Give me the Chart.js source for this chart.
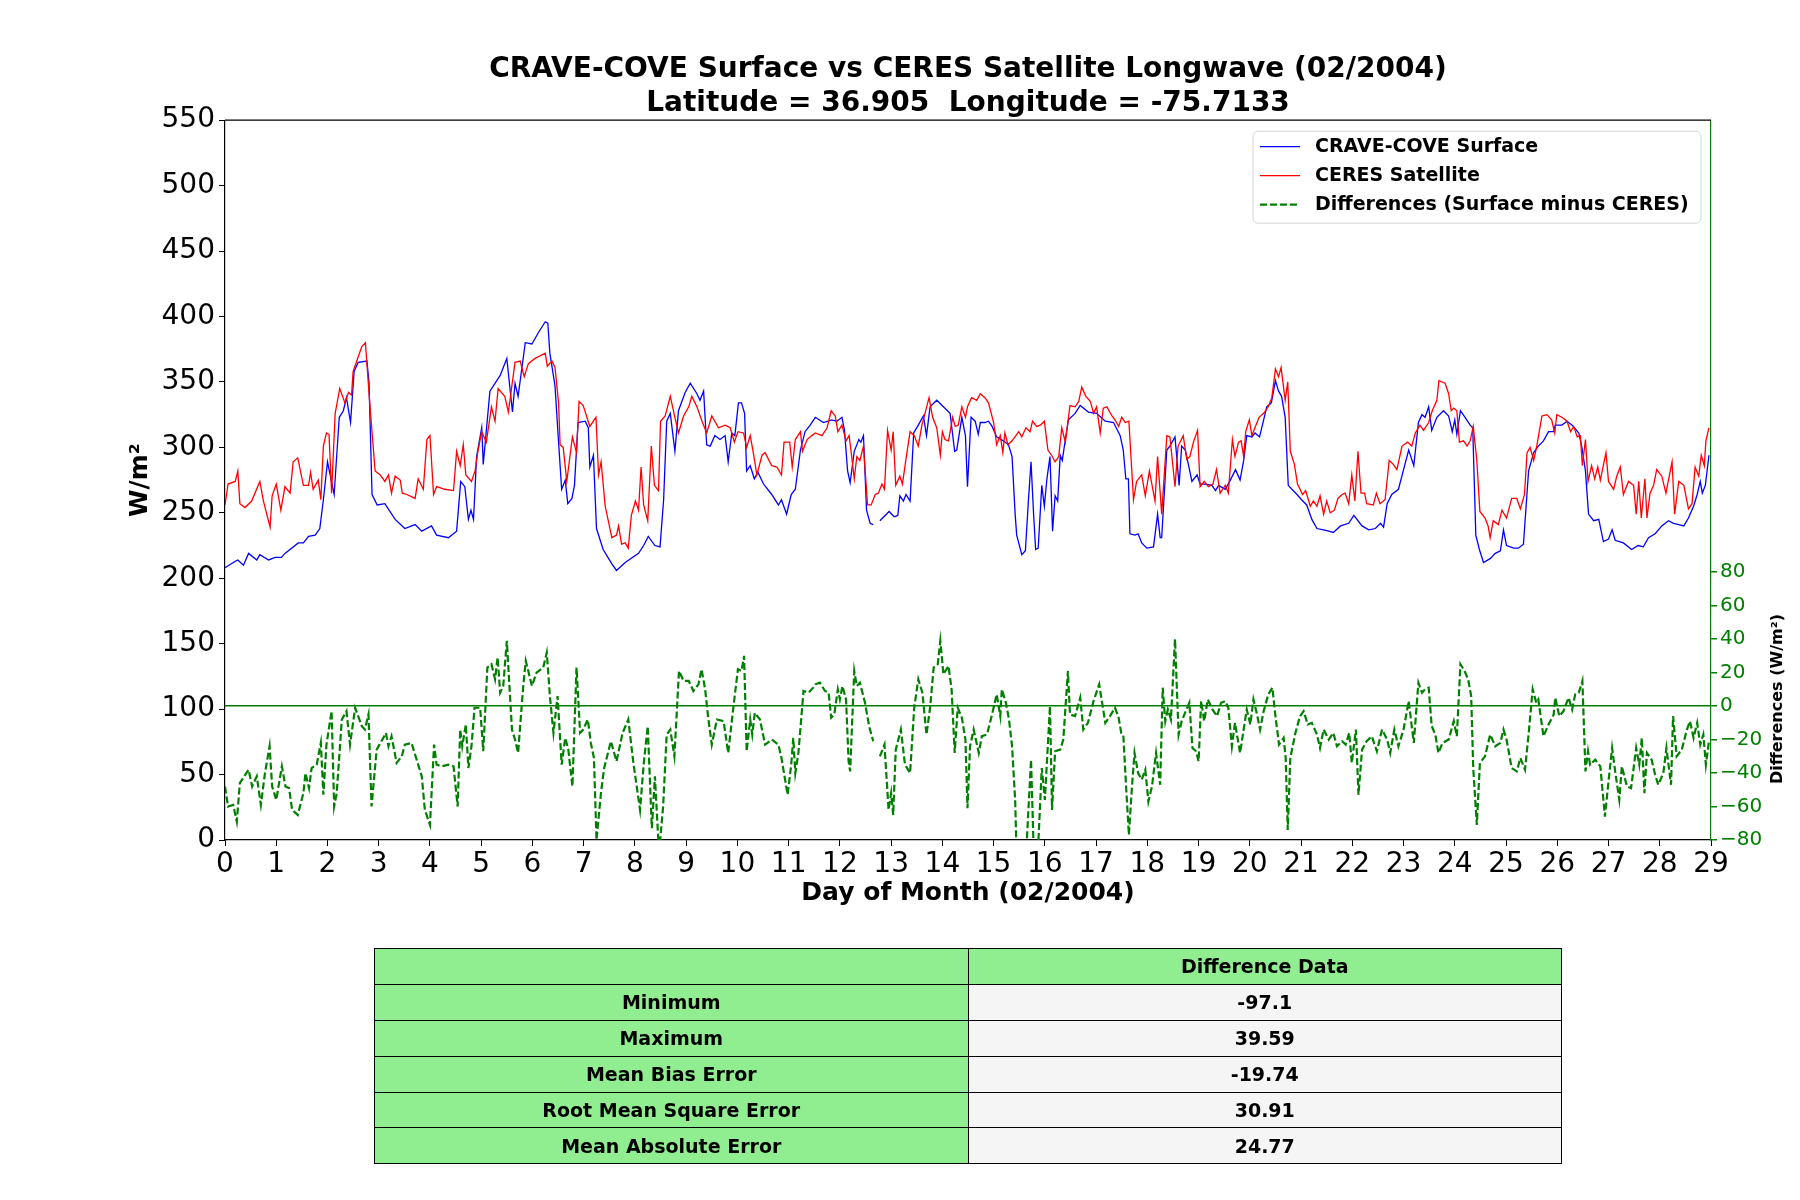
<!DOCTYPE html>
<html>
<head>
<meta charset="utf-8">
<script src="https://cdn.jsdelivr.net/npm/chart.js@4.4.1/dist/chart.umd.min.js"></script>
<style>
  body { margin: 0; background: #fff; }
  #wrap { position: relative; width: 1800px; height: 1200px; }
  #chart { position: absolute; left: 0; top: 0; }
  #stats {
    position: absolute; left: 374px; top: 948px; width: 1188px;
    border-collapse: collapse; font: bold 19px "DejaVu Sans", sans-serif;
  }
  #stats td { height: 34.9px; border: 1.5px solid #000; text-align: center; width: 50%; background: #f5f5f5; padding: 0; }
  #stats td.g { background: #90ee90; }
</style>
</head>
<body>
<div id="wrap">
  <canvas id="chart" width="1800" height="1200"></canvas>
  <table id="stats"></table>
</div>
<script>
// CRAVE-COVE surface (blue)
const surfDay = [0, 0.2, 0.25, 0.36, 0.46, 0.62, 0.68, 0.85, 0.98, 1.1, 1.17, 1.43, 1.53, 1.63, 1.76, 1.85, 1.92, 2.0, 2.13, 2.23, 2.31, 2.37, 2.45, 2.52, 2.6, 2.77, 2.81, 2.87, 2.97, 3.12, 3.32, 3.51, 3.71, 3.84, 4.03, 4.13, 4.36, 4.52, 4.6, 4.68, 4.75, 4.8, 4.85, 4.91, 5.01, 5.04, 5.17, 5.37, 5.5, 5.61,
  5.66, 5.72, 5.86, 5.99, 6.12, 6.25, 6.3, 6.34, 6.44, 6.51, 6.57, 6.64, 6.69, 6.77, 6.82, 6.89, 7.03, 7.09, 7.12, 7.19, 7.25, 7.38, 7.55, 7.64, 7.81, 8.07, 8.17, 8.26, 8.39, 8.49, 8.56, 8.62, 8.69, 8.78, 8.85, 8.98, 9.08, 9.21, 9.27, 9.34, 9.4, 9.47, 9.56, 9.66, 9.76, 9.82, 9.89, 9.95, 10.02, 10.08, 10.14, 10.18, 10.25, 10.33, 10.4, 10.51, 10.67, 10.8, 10.86, 10.96, 11.05, 11.13, 11.23, 11.32, 11.42,
  11.52, 11.68, 11.84, 11.94, 12.04, 12.09, 12.15, 12.2, 12.28, 12.37, 12.41, 12.46, 12.52, 12.59, 12.65, 12.7, 12.78, 12.96, 13.06, 13.13, 13.17, 13.24, 13.29, 13.37, 13.44, 13.53, 13.63, 13.69, 13.76, 13.89, 14.02, 14.15, 14.24, 14.28, 14.38, 14.45, 14.49, 14.56, 14.64, 14.7, 14.74, 14.83, 14.9, 14.97, 15.06, 15.19, 15.29, 15.36, 15.42, 15.45, 15.55, 15.62, 15.68, 15.73, 15.78, 15.82, 15.87, 15.94, 15.99, 16.04, 16.1, 16.15, 16.2, 16.25, 16.3, 16.34, 16.4, 16.46, 16.59, 16.69, 16.85, 17.01, 17.18, 17.34,
  17.47, 17.53, 17.58, 17.63, 17.66, 17.76, 17.82, 17.89, 17.99, 18.12, 18.2, 18.25, 18.28, 18.38, 18.44, 18.54, 18.62, 18.67, 18.74, 18.79, 18.87, 18.97, 19.03, 19.13, 19.26, 19.33, 19.39, 19.52, 19.62, 19.72, 19.81, 19.88, 19.94, 20.04, 20.1, 20.19, 20.27, 20.33, 20.42, 20.5, 20.56, 20.62, 20.69, 20.75, 20.82, 20.92, 21.01, 21.11, 21.21, 21.31, 21.44, 21.54, 21.63, 21.77, 21.93, 22.03, 22.19, 22.32, 22.45, 22.55, 22.61, 22.68, 22.77, 22.9, 23.0, 23.1, 23.2,
  23.29, 23.36, 23.42, 23.49, 23.55, 23.65, 23.78, 23.88, 23.95, 24.0, 24.04, 24.11, 24.2, 24.3, 24.35, 24.41, 24.48, 24.56, 24.69, 24.79, 24.89, 24.95, 25.01, 25.15, 25.24, 25.34, 25.44, 25.54, 25.63, 25.73, 25.83, 25.93, 25.96, 26.09, 26.19, 26.29, 26.42, 26.48, 26.55, 26.61, 26.71, 26.81, 26.9, 27.0, 27.07, 27.13, 27.29, 27.45, 27.58, 27.68, 27.78, 27.91, 28.04, 28.17, 28.27, 28.37, 28.47, 28.56, 28.66, 28.73, 28.79, 28.83, 28.89, 28.96];
const surfVal = [208, 213, 214, 210, 219, 214, 218, 214, 216, 216, 219, 227, 227, 232, 233, 238, 260, 289, 264, 323, 328, 338, 319, 358, 365, 366, 350, 264, 256, 257, 245, 238, 241, 236, 240, 233, 231, 236, 274, 270, 245, 252, 245, 293, 315, 287, 343, 355, 368, 327,
  349, 339, 380, 379, 388, 396, 395, 372, 347, 304, 268, 275, 257, 261, 271, 319, 320, 315, 285, 294, 238, 222, 211, 206, 212, 219, 225, 232, 225, 224, 260, 320, 326, 297, 328, 342, 349, 341, 336, 343, 302, 301, 309, 306, 309, 289, 311, 309, 334, 334, 326, 282, 286, 276, 281, 272, 264, 256, 260, 249, 264, 268, 298, 312, 317,
  323, 319, 321, 320, 323, 313, 282, 273, 297, 306, 304, 309, 252, 242, 241, null, 244, 251, 247, 248, 263, 259, 264, 259, 311, 317, 324, 309, 331, 336, 331, 326, 297, 298, 323, 309, 270, 323, 320, 310, 319, 319, 320, 316, 308, 305, 302, 293, 249, 233, 218, 221, 260, 289, 249, 222, 223, 271, 255, 276, 293, 236, 263, 259, 294, 290, 306, 321, 326, 332, 327, 326, 320, 319,
  309, 298, 276, 276, 234, 233, 234, 227, 223, 224, 249, 231, 231, 298, 301, 308, 271, 301, 298, 289, 274, 279, 272, 272, 271, 267, 271, 268, 275, 283, 275, 290, 309, 308, 311, 308, 321, 331, 334, 351, 343, 339, 323, 271, 268, 264, 260, 256, 245, 238, 237, 236, 235, 240, 242, 248, 240, 237, 238, 242, 239, 257, 264, 268, 283, 298, 286,
  319, 325, 323, 331, 313, 323, 328, 324, 312, 321, 310, 328, 323, 317, 315, 233, 222, 212, 215, 219, 221, 237, 225, 223, 223, 226, 282, 296, 301, 305, 312, 312, 317, 317, 320, 317, 311, 300, 282, 249, 244, 245, 228, 230, 237, 229, 227, 222, 225, 224, 231, 234, 240, 244, 242, 241, 240, 246, 255, 264, 274, 265, 271, 294];

// CERES satellite (red)
const ceresDay = [0, 0.06, 0.2, 0.25, 0.29, 0.39, 0.52, 0.68, 0.75, 0.88, 0.92, 1.0, 1.09, 1.17, 1.27, 1.33, 1.42, 1.53, 1.63, 1.67, 1.72, 1.82, 1.87, 1.92, 1.98, 2.03, 2.08, 2.15, 2.24, 2.34, 2.41, 2.47, 2.5, 2.67, 2.74, 2.83, 2.93, 3.03, 3.12, 3.19, 3.25, 3.32, 3.42, 3.46, 3.55, 3.71, 3.77, 3.87, 3.94, 4.0, 4.07, 4.13, 4.29, 4.46, 4.52, 4.59, 4.65, 4.7, 4.81, 4.88, 4.94, 5.01, 5.1, 5.2, 5.27, 5.33, 5.46, 5.53,
  5.66, 5.76, 5.84, 5.92, 6.05, 6.25, 6.29, 6.38, 6.44, 6.51, 6.54, 6.6, 6.67, 6.78, 6.86, 6.91, 6.99, 7.12, 7.24, 7.29, 7.34, 7.42, 7.55, 7.64, 7.68, 7.74, 7.81, 7.87, 7.93, 8.01, 8.07, 8.12, 8.17, 8.25, 8.32, 8.38, 8.46, 8.5, 8.59, 8.69, 8.78, 8.85, 8.95, 9.05, 9.11, 9.21, 9.31, 9.4, 9.5, 9.63, 9.76, 9.86, 9.94, 10.01, 10.12, 10.18, 10.25, 10.31, 10.38, 10.48, 10.54, 10.67, 10.77, 10.86, 10.91, 11.02, 11.07, 11.13, 11.23, 11.27, 11.36, 11.45,
  11.52, 11.65, 11.75, 11.83, 11.91, 11.96, 12.04, 12.12, 12.18, 12.23, 12.28, 12.33, 12.39, 12.46, 12.54, 12.61, 12.69, 12.75, 12.82, 12.87, 12.93, 13.0, 13.04, 13.09, 13.17, 13.22, 13.29, 13.37, 13.45, 13.53, 13.6, 13.66, 13.74, 13.81, 13.89, 13.96, 14.0, 14.05, 14.12, 14.2, 14.25, 14.31, 14.38, 14.45, 14.49, 14.57, 14.67, 14.74, 14.83, 14.9, 15.0, 15.06, 15.13, 15.18, 15.22, 15.28, 15.36, 15.49, 15.55, 15.63, 15.71, 15.76, 15.84, 15.91, 15.99, 16.06, 16.13, 16.2, 16.27, 16.33, 16.4, 16.49, 16.59, 16.66, 16.72, 16.8, 16.89, 16.95, 17.01, 17.08, 17.14, 17.21, 17.31,
  17.37, 17.44, 17.5, 17.57, 17.64, 17.73, 17.79, 17.89, 17.96, 18.04, 18.15, 18.2, 18.28, 18.38, 18.44, 18.54, 18.6, 18.7, 18.77, 18.83, 18.9, 18.98, 19.03, 19.11, 19.19, 19.28, 19.35, 19.42, 19.52, 19.58, 19.66, 19.71, 19.78, 19.83, 19.88, 19.92, 19.99, 20.04, 20.1, 20.18, 20.27, 20.36, 20.43, 20.5, 20.56, 20.61, 20.69, 20.74, 20.79, 20.87, 20.93, 21.03, 21.09, 21.18, 21.24, 21.31, 21.37, 21.44, 21.5, 21.57, 21.65, 21.72, 21.8, 21.86, 21.93, 21.99, 22.05, 22.11, 22.17, 22.24, 22.28, 22.41, 22.47, 22.54, 22.64, 22.72, 22.8, 22.87, 22.97, 23.08, 23.16,
  23.23, 23.32, 23.39, 23.49, 23.56, 23.65, 23.69, 23.81, 23.88, 23.93, 23.98, 24.04, 24.09, 24.17, 24.24, 24.3, 24.36, 24.43, 24.49, 24.59, 24.65, 24.69, 24.75, 24.85, 24.92, 25.01, 25.11, 25.21, 25.28, 25.36, 25.41, 25.47, 25.54, 25.6, 25.7, 25.8, 25.89, 25.95, 25.99, 26.09, 26.19, 26.26, 26.32, 26.39, 26.45, 26.49, 26.55, 26.6, 26.67, 26.73, 26.79, 26.84, 26.95, 27.0, 27.1, 27.16, 27.23, 27.29, 27.39, 27.49, 27.54, 27.59, 27.64, 27.71, 27.75, 27.81, 27.88, 27.94, 28.04, 28.12, 28.24, 28.29, 28.37, 28.47, 28.56, 28.63, 28.69, 28.76, 28.81, 28.87, 28.9, 28.96];
const ceresVal = [256, 272, 274, 282, 257, 254, 259, 274, 259, 239, 263, 272, 252, 270, 265, 289, 292, 271, 271, 281, 268, 275, 260, 301, 311, 310, 265, 326, 345, 334, 342, 340, 358, 377, 380, 331, 282, 279, 274, 279, 265, 278, 275, 265, 264, 261, 276, 268, 306, 309, 264, 270, 268, 267, 297, 286, 302, 279, 274, 282, 298, 312, 304, 331, 320, 345, 339, 327,
  365, 366, 354, 364, 368, 372, 362, 366, 361, 334, 302, 300, 274, 308, 296, 335, 332, 316, 323, 279, 289, 255, 231, 233, 240, 226, 227, 223, 248, 259, 252, 285, 256, 244, 301, 271, 267, 320, 324, 339, 323, 311, 324, 331, 339, 331, 320, 311, 324, 315, 317, 315, 304, 312, 311, 300, 309, 296, 279, 294, 296, 286, 285, 279, 304, 304, 285, 306, 312, 297, 306, 309,
  311, 309, 315, 328, 324, 312, 317, 305, 309, 293, 276, 293, 290, 301, 256, 256, 264, 265, 272, 268, 313, 298, 312, 271, 278, 272, 291, 312, 309, 301, 317, 326, 338, 323, 315, 294, 312, 306, 305, 323, 316, 317, 331, 323, 331, 338, 336, 341, 338, 334, 319, 302, 309, 296, 311, 302, 305, 312, 308, 315, 312, 320, 316, 317, 320, 298, 294, 289, 293, 315, 304, 332, 331, 335, 346, 339, 335, 326, 331, 311, 330, 331, 324,
  321, 316, 323, 319, 320, 260, 274, 279, 263, 282, 259, 293, 249, 309, 308, 270, 301, 309, 291, 293, 304, 313, 270, 274, 270, 272, 283, 265, 271, 265, 306, 293, 304, 305, 293, 312, 321, 309, 315, 323, 326, 331, 338, 360, 354, 361, 336, 350, 297, 287, 272, 264, 267, 255, 259, 255, 263, 249, 259, 250, 252, 261, 264, 265, 257, 279, 259, 297, 265, 265, 257, 256, 265, 257, 260, 290, 287, 283, 301, 304, 301,
  311, 317, 313, 319, 328, 336, 351, 349, 341, 328, 330, 328, 304, 305, 301, 305, 316, 290, 251, 246, 240, 231, 244, 241, 252, 246, 261, 261, 253, 264, 296, 300, 290, 301, 324, 325, 321, 311, 325, 323, 320, 312, 316, 308, 309, 286, 306, 274, 286, 276, 285, 275, 296, 274, 268, 278, 285, 264, 274, 271, 249, 274, 246, 276, 246, 265, 271, 283, 278, 265, 289, 249, 274, 271, 253, 257, 285, 278, 294, 286, 305, 315];

// Differences, surface minus CERES (green, right axis)
const diffDay = [0, 0.06, 0.16, 0.23, 0.29, 0.46, 0.53, 0.62, 0.7, 0.78, 0.87, 0.92, 1.0, 1.11, 1.18, 1.25, 1.31, 1.42, 1.53, 1.57, 1.64, 1.69, 1.79, 1.87, 1.92, 1.98, 2.08, 2.13, 2.18, 2.28, 2.37, 2.44, 2.54, 2.67, 2.73, 2.8, 2.86, 2.96, 3.09, 3.14, 3.19, 3.25, 3.35, 3.45, 3.51, 3.64, 3.74, 3.84, 3.9, 4.0, 4.08, 4.13, 4.23, 4.36, 4.46, 4.54, 4.59, 4.63, 4.7, 4.75, 4.81, 4.87, 4.98, 5.04, 5.12, 5.2, 5.27, 5.32, 5.37, 5.43, 5.5, 5.6,
  5.66, 5.72, 5.82, 5.87, 5.99, 6.08, 6.21, 6.28, 6.34, 6.41, 6.49, 6.57, 6.64, 6.7, 6.78, 6.86, 6.93, 6.99, 7.08, 7.14, 7.2, 7.25, 7.34, 7.4, 7.53, 7.64, 7.76, 7.87, 7.97, 8.1, 8.17, 8.25, 8.33, 8.39, 8.47, 8.55, 8.62, 8.69, 8.77, 8.86, 8.95, 9.05, 9.14, 9.24, 9.3, 9.37, 9.43, 9.5, 9.6, 9.73, 9.82, 9.92, 10.01, 10.08, 10.13, 10.18, 10.25, 10.29, 10.34, 10.44, 10.54, 10.67, 10.8, 10.86, 10.98, 11.05, 11.09, 11.13, 11.19, 11.29, 11.39, 11.48,
  11.52, 11.61, 11.71, 11.78, 11.83, 11.89, 11.96, 12.0, 12.05, 12.12, 12.17, 12.2, 12.28, 12.33, 12.39, 12.49, 12.57, 12.65, 12.7, 12.78, 12.87, 12.95, 13.0, 13.04, 13.09, 13.19, 13.27, 13.37, 13.45, 13.53, 13.61, 13.69, 13.76, 13.83, 13.91, 13.96, 14.02, 14.12, 14.18, 14.24, 14.3, 14.38, 14.45, 14.49, 14.54, 14.61, 14.71, 14.77, 14.87, 14.97, 15.06, 15.13, 15.16, 15.24, 15.3, 15.36, 15.42, 15.45, 15.55, 15.64, 15.73, 15.79, 15.86, 15.94, 16.0, 16.1, 16.14, 16.2, 16.3, 16.36, 16.45, 16.49, 16.59, 16.69, 16.75, 16.84, 16.95, 17.06, 17.18, 17.27,
  17.37, 17.44, 17.49, 17.53, 17.6, 17.64, 17.7, 17.75, 17.82, 17.89, 17.96, 18.02, 18.09, 18.17, 18.25, 18.3, 18.35, 18.4, 18.46, 18.54, 18.61, 18.67, 18.75, 18.82, 18.88, 18.95, 19.0, 19.05, 19.11, 19.18, 19.27, 19.36, 19.44, 19.52, 19.58, 19.65, 19.71, 19.81, 19.88, 19.94, 20.01, 20.07, 20.14, 20.2, 20.27, 20.36, 20.44, 20.5, 20.57, 20.66, 20.7, 20.74, 20.79, 20.89, 20.98, 21.05, 21.13, 21.21, 21.31, 21.37, 21.44, 21.54, 21.63, 21.7, 21.8, 21.87, 21.94, 21.99, 22.07, 22.12, 22.19, 22.28, 22.38, 22.48, 22.58, 22.68, 22.74, 22.82, 22.9, 23.0, 23.1, 23.2,
  23.29, 23.36, 23.42, 23.49, 23.55, 23.62, 23.68, 23.76, 23.88, 23.98, 24.04, 24.11, 24.19, 24.26, 24.32, 24.36, 24.43, 24.49, 24.59, 24.69, 24.79, 24.89, 24.95, 25.01, 25.11, 25.21, 25.28, 25.37, 25.44, 25.52, 25.59, 25.63, 25.73, 25.83, 25.93, 25.96, 26.04, 26.12, 26.22, 26.29, 26.35, 26.42, 26.49, 26.55, 26.6, 26.64, 26.74, 26.84, 26.93, 27.0, 27.07, 27.13, 27.21, 27.26, 27.36, 27.44, 27.54, 27.6, 27.65, 27.7, 27.75, 27.84, 27.91, 27.97, 28.07, 28.13, 28.22, 28.26, 28.33, 28.43, 28.53, 28.59, 28.66, 28.73, 28.79, 28.85, 28.9, 28.96];
const diffVal = [-48, -60, -59, -69, -46, -38, -48, -42, -59, -40, -24, -48, -56, -36, -48, -49, -62, -65, -52, -40, -49, -37, -35, -22, -53, -23, -3, -60, -52, -8, -3, -23, -1, -12, -14, -5, -60, -26, -19, -16, -24, -18, -34, -30, -23, -22, -32, -42, -62, -71, -23, -35, -36, -35, -36, -60, -14, -24, -11, -37, -24, -1, -1, -27, 23, 25, 16, 29, 8, 12, 39, -14,
  -20, -28, 12, 27, 12, 20, 23, 32, 6, -16, 6, -35, -19, -26, -48, 23, -16, -14, -8, -22, -31, -80, -51, -37, -21, -33, -16, -8, -34, -62, -35, -12, -73, -42, -88, -60, -17, -14, -30, 21, 15, 15, 9, 13, 22, 10, -7, -23, -8, -9, -28, -1, 22, 21, 30, -27, -8, -17, -4, -8, -23, -20, -23, -31, -53, -35, -19, -40, -28, 9, 8, 11,
  13, 14, 9, 8, -7, -5, 10, 4, 12, 4, -33, -39, 21, 12, 14, 2, -12, -21, null, -30, -23, -62, -52, -65, -26, -14, -35, -40, -1, 16, 8, -17, -1, 23, 25, 39, 19, 24, 10, -28, -1, -7, -20, -61, -24, -14, -28, -18, -17, -5, 7, -6, 10, 2, -8, -24, -56, -90, -97, -85, -32, -95, -90, -37, -56, 0, -62, -27, -26, -20, 21, -5, -6, 5, -14, -10, 3, 13, -10, -6,
  -1, -7, -16, -17, -56, -77, -48, -28, -40, -44, -38, -57, -48, -28, -47, 11, -9, -2, -8, 40, -17, -9, -3, 2, -25, -27, -33, 3, -9, 4, -2, -6, 2, 3, -1, -24, -10, -28, -14, -2, -11, 4, -5, -14, -3, 7, 11, -6, -23, -19, -31, -74, -31, -16, -6, -3, -11, -10, -17, -25, -14, -20, -16, -24, -21, -23, -16, -34, -14, -53, -26, -21, -18, -27, -14, -20, -28, -14, -24, -14, 3, -22,
  14, 8, 10, 11, -12, -17, -28, -22, -20, -9, -18, 25, 21, 16, 6, -37, -71, -34, -30, -17, -24, -22, -14, -20, -37, -39, -31, -38, -17, 10, 2, 4, -18, -11, -5, 5, -6, -3, 5, -2, 7, 8, 15, -39, -27, -35, -32, -36, -66, -45, -25, -39, -56, -36, -48, -49, -25, -35, -19, -52, -28, -32, -41, -47, -40, -25, -47, -6, -30, -26, -14, -9, -19, -10, -23, -17, -35, -21];

// axis tick ranges
const leftMin = 0, leftMax = 550, leftStep = 50;
const rightMin = -80, rightMax = 350, rightStep = 20, rightLabelTop = 80;
const dayMin = 0, dayMax = 29;

// statistics table
const statNames = ['Minimum', 'Maximum', 'Mean Bias Error', 'Root Mean Square Error', 'Mean Absolute Error'];
const statValues = ['-97.1', '39.59', '-19.74', '30.91', '24.77'];

const toPoints = (days, vals) => days.map((d, i) => ({ x: d, y: vals[i] }));

Chart.defaults.font.family = '"DejaVu Sans", sans-serif';
Chart.defaults.color = '#000';

// legend box in the upper right of the plot, plus top spine and right label
const extras = {
  id: 'extras',
  afterDraw(chart) {
    const { ctx, chartArea } = chart;
    ctx.save();
    // top spine
    ctx.strokeStyle = '#000';
    ctx.lineWidth = 1.2;
    ctx.beginPath();
    ctx.moveTo(chartArea.left, chartArea.top);
    ctx.lineTo(chartArea.right, chartArea.top);
    ctx.stroke();

    // legend
    const w = 448, h = 92;
    const x = chartArea.right - 10 - w, y = chartArea.top + 11;
    ctx.beginPath();
    ctx.roundRect(x, y, w, h, 5);
    ctx.fillStyle = 'rgba(255,255,255,0.8)';
    ctx.fill();
    ctx.strokeStyle = '#d6d6d6';
    ctx.lineWidth = 1;
    ctx.stroke();
    chart.data.datasets.forEach((ds, i) => {
      const cy = y + 15.5 + i * 29;
      ctx.strokeStyle = ds.borderColor;
      ctx.lineWidth = ds.borderWidth;
      ctx.setLineDash(ds.borderDash || []);
      ctx.beginPath();
      ctx.moveTo(x + 7, cy);
      ctx.lineTo(x + 47, cy);
      ctx.stroke();
      ctx.setLineDash([]);
      ctx.fillStyle = '#000';
      ctx.font = 'bold 19px "DejaVu Sans"';
      ctx.textBaseline = 'middle';
      ctx.textAlign = 'left';
      ctx.fillText(ds.label, x + 62, cy);
    });

    // right axis label, reading upward
    ctx.translate(chart.width - 22, 699);
    ctx.rotate(-Math.PI / 2);
    ctx.font = 'bold 16px "DejaVu Sans"';
    ctx.textAlign = 'center';
    ctx.textBaseline = 'middle';
    ctx.fillStyle = '#000';
    ctx.fillText('Differences (W/m\u00B2)', 0, 0);
    ctx.restore();
  }
};

new Chart(document.getElementById('chart'), {
  type: 'line',
  data: {
    datasets: [{
      label: 'CRAVE-COVE Surface',
      data: toPoints(surfDay, surfVal),
      borderColor: '#0000ff',
      borderWidth: 1.3,
      yAxisID: 'y',
      order: 3
    }, {
      label: 'CERES Satellite',
      data: toPoints(ceresDay, ceresVal),
      borderColor: '#ff0000',
      borderWidth: 1.3,
      yAxisID: 'y',
      order: 2
    }, {
      label: 'Differences (Surface minus CERES)',
      data: toPoints(diffDay, diffVal),
      borderColor: '#008000',
      borderWidth: 2.2,
      borderDash: [7, 3],
      yAxisID: 'y2',
      order: 1
    }]
  },
  options: {
    responsive: false,
    animation: false,
    devicePixelRatio: 1,
    elements: { point: { radius: 0 }, line: { tension: 0 } },
    layout: { padding: { left: 115, right: 0, top: 0, bottom: 290 } },
    plugins: {
      legend: { display: false },
      tooltip: { enabled: false },
      title: {
        display: true,
        fullSize: false,
        text: ['CRAVE-COVE Surface vs CERES Satellite Longwave (02/2004)', 'Latitude = 36.905  Longitude = -75.7133'],
        color: '#000',
        font: { size: 28, weight: 'bold', lineHeight: 1.2 },
        padding: { top: 53, bottom: 0 }
      }
    },
    scales: {
      x: {
        type: 'linear',
        min: dayMin,
        max: dayMax,
        afterFit: s => { s.height = 70; },
        ticks: { stepSize: 1, autoSkip: false, maxRotation: 0, font: { size: 28 }, color: '#000', padding: 2 },
        grid: { drawOnChartArea: false, tickLength: 6, color: '#000', tickColor: '#000' },
        border: { color: '#000', width: 1.2 },
        title: { display: true, text: 'Day of Month (02/2004)', font: { size: 25, weight: 'bold' }, color: '#000', padding: { top: 0, bottom: 2 } }
      },
      y: {
        position: 'left',
        min: leftMin,
        max: leftMax,
        afterFit: s => { s.width = 110; },
        ticks: { stepSize: leftStep, font: { size: 28 }, color: '#000', padding: 4 },
        grid: { drawOnChartArea: false, tickLength: 6, color: '#000', tickColor: '#000' },
        border: { color: '#000', width: 1.2 },
        title: { display: true, text: 'W/m\u00B2', font: { size: 25, weight: 'bold' }, color: '#000', padding: { top: 10, bottom: 0 } }
      },
      y2: {
        position: 'right',
        min: rightMin,
        max: rightMax,
        afterFit: s => { s.width = 89; },
        afterBuildTicks: s => { s.ticks = s.ticks.filter(t => t.value <= rightLabelTop); },
        ticks: {
          stepSize: rightStep,
          font: { size: 20 },
          color: '#008000',
          padding: 3,
          callback: v => (v < 0 ? '\u2212' + Math.abs(v) : String(v))
        },
        grid: {
          drawOnChartArea: true,
          tickLength: 6,
          tickColor: '#008000',
          lineWidth: 1.5,
          color: c => (c.tick && c.tick.value === 0 ? '#008000' : 'rgba(0,0,0,0)')
        },
        border: { color: '#008000', width: 1.2 }
      }
    }
  },
  plugins: [extras]
});

// statistics table
const table = document.getElementById('stats');
const head = table.insertRow();
head.insertCell().className = 'g';
const hc = head.insertCell();
hc.className = 'g';
hc.textContent = 'Difference Data';
statNames.forEach((name, i) => {
  const row = table.insertRow();
  const a = row.insertCell();
  a.className = 'g';
  a.textContent = name;
  row.insertCell().textContent = statValues[i];
});
</script>
</body>
</html>
